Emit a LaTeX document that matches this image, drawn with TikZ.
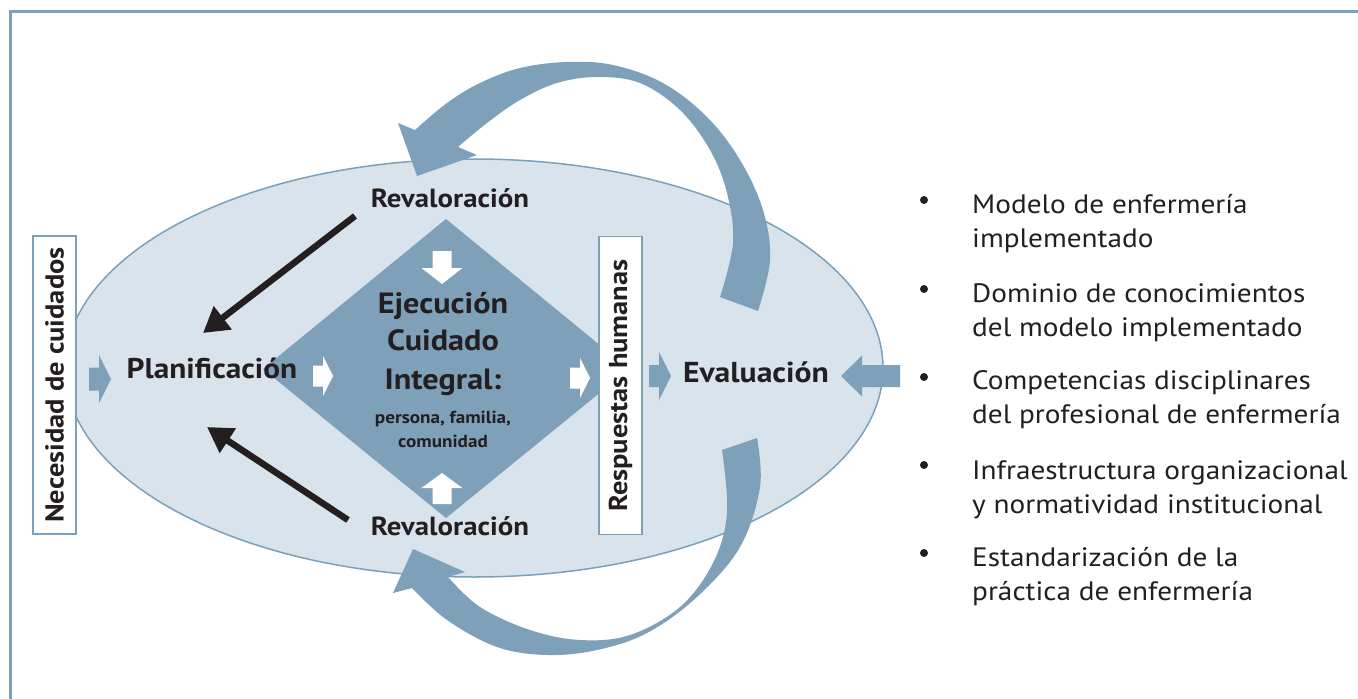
\documentclass[tikz,border=0pt]{standalone}
\usepackage{fontspec}
\setmainfont{PT Sans}[FakeStretch=1.1]
\usetikzlibrary{arrows.meta}
\definecolor{ablue}{HTML}{7EA0B9}
\definecolor{efill}{HTML}{D8E3EC}
\definecolor{eline}{HTML}{7BA0BB}
\definecolor{ink}{HTML}{231F20}
\newcommand\harrowshape[7]{\fill[#1] (#2,#5-#6) -- (#3,#5-#6) -- (#3,#5-#7) -- (#4,#5) -- (#3,#5+#7) -- (#3,#5+#6) -- (#2,#5+#6) -- cycle;}
\newcommand\varrowshape[7]{\fill[#1] (#5-#6,#2) -- (#5-#6,#3) -- (#5-#7,#3) -- (#5,#4) -- (#5+#7,#3) -- (#5+#6,#3) -- (#5+#6,#2) -- cycle;}
\begin{document}
\begin{tikzpicture}[x=1pt,y=-1pt,
  txt/.style={text=ink, inner sep=0pt},
  bigb/.style={txt, font=\bfseries\fontsize{28.5}{30}\selectfont},
  vbox/.style={draw=eline, line width=1.2pt, fill=white, rotate=90, minimum width=298pt, minimum height=43pt, inner sep=0pt, text=ink, font=\bfseries\fontsize{25.9}{30}\selectfont},
  blackarrow/.style={draw=ink, line width=6.5pt, -{Triangle[length=25pt,width=28pt]}},
  item/.style={txt, anchor=base west, align=left, font=\fontsize{26.6}{33.5}\selectfont},
  dot/.style={circle, fill=ink, inner sep=0pt, minimum size=8pt}
]
\useasboundingbox (0,0) rectangle (1358,699);
\fill[white] (0,0) rectangle (1358,699);
\draw[ablue, line width=3pt] (1360,11) -- (10,11) -- (10,701);

% ellipse and diamond
\draw[fill=efill, draw=eline, line width=1.5pt] (474,368) ellipse [x radius=409, y radius=209];
\fill[ablue] (446,219) -- (629,369) -- (446,518) -- (263,369) -- cycle;

% side boxes
\node[vbox] (nec) at (54.5,385) {Necesidad de cuidados};
\node[vbox] (resp) at (620.5,385.5) {Respuestas humanas};

% main labels
\node[bigb, anchor=base, font=\bfseries\fontsize{26.2}{30}\selectfont] (rev1) at (450,207) {Revaloración};
\node[bigb, anchor=base, font=\bfseries\fontsize{26.2}{30}\selectfont] (rev2) at (450,535) {Revaloración};
\node[bigb, anchor=base] (plan) at (212,378) {Planificación};
\node[bigb, anchor=base, font=\bfseries\fontsize{28.8}{30}\selectfont] (eval) at (756,382) {Evaluación};
\node[bigb, anchor=base, font=\bfseries\fontsize{29.3}{30}\selectfont] (ej1) at (443,313) {Ejecución};
\node[bigb, anchor=base, font=\bfseries\fontsize{29.3}{30}\selectfont] (ej2) at (443,350) {Cuidado};
\node[bigb, anchor=base, font=\bfseries\fontsize{29.3}{30}\selectfont] (ej3) at (443,389) {Integral:};
\node[bigb, anchor=base, font=\bfseries\fontsize{17.4}{20}\selectfont] (ej4) at (443,423) {persona, familia,};
\node[bigb, anchor=base, font=\bfseries\fontsize{17.4}{20}\selectfont] (ej5) at (443,447) {comunidad};

% block arrows
\harrowshape{ablue}{89}{99}{111}{379}{11.5}{24}
\harrowshape{white}{313}{323}{333}{376}{10.5}{20}
\harrowshape{white}{570}{580}{590}{378}{10.5}{20}
\harrowshape{ablue}{649}{659}{671}{376}{11}{24}
\harrowshape{ablue}{900}{862}{841}{376}{11}{20.5}
\varrowshape{white}{251}{268}{284}{442}{9.5}{20.5}
\varrowshape{white}{504}{488}{473}{442}{9.5}{20.5}

% black arrows
\coordinate (r1s) at (355,216);
\coordinate (p1e) at (203,333);
\coordinate (r2s) at (348,520);
\coordinate (p2e) at (207,427);
\draw[blackarrow] (r1s) -- (p1e);
\draw[blackarrow] (r2s) -- (p2e);

% curved arrows
\fill[ablue] (758,311) -- plot[smooth, tension=0.6] coordinates {(758,311) (770,260) (763,210) (740,160) (707,117) (663,83) (613,65) (567,62) (520,68) (480,83) (447,103) (415,130)}
  -- (398,123) -- (417,176) -- (477,155)
  -- plot[smooth, tension=0.6] coordinates {(458,147) (487,123) (520,100) (557,83) (597,77) (640,83) (680,110) (710,150) (727,193) (733,243) (720,297)} -- cycle;
\fill[ablue] (757,438) -- plot[smooth, tension=0.6] coordinates {(757,438) (760,487) (740,547) (697,597) (647,633) (597,650) (547,655) (497,647) (447,620) (412,588)}
  -- (393,593) -- (413,549) -- (465,572)
  -- plot[smooth, tension=0.6] coordinates {(448,577) (480,607) (530,630) (580,640) (630,635) (680,607) (713,563) (727,513) (722,450)} -- cycle;

% bullet list
\node[dot] (b1) at (924,200) {};
\node[dot] (b2) at (924,289) {};
\node[dot] (b3) at (924,377) {};
\node[dot] (b4) at (924,465) {};
\node[dot] (b5) at (924,553) {};
\node[item] (t1) at (972,247) {Modelo de enfermería\\implementado};
\node[item] (t2) at (972,336) {Dominio de conocimientos\\del modelo implementado};
\node[item] (t3) at (972,423) {Competencias disciplinares\\del profesional de enfermería};
\node[item] (t4) at (972,513) {Infraestructura organizacional\\y normatividad institucional};
\node[item] (t5) at (972,600) {Estandarización de la\\práctica de enfermería};
\end{tikzpicture}
\end{document}
